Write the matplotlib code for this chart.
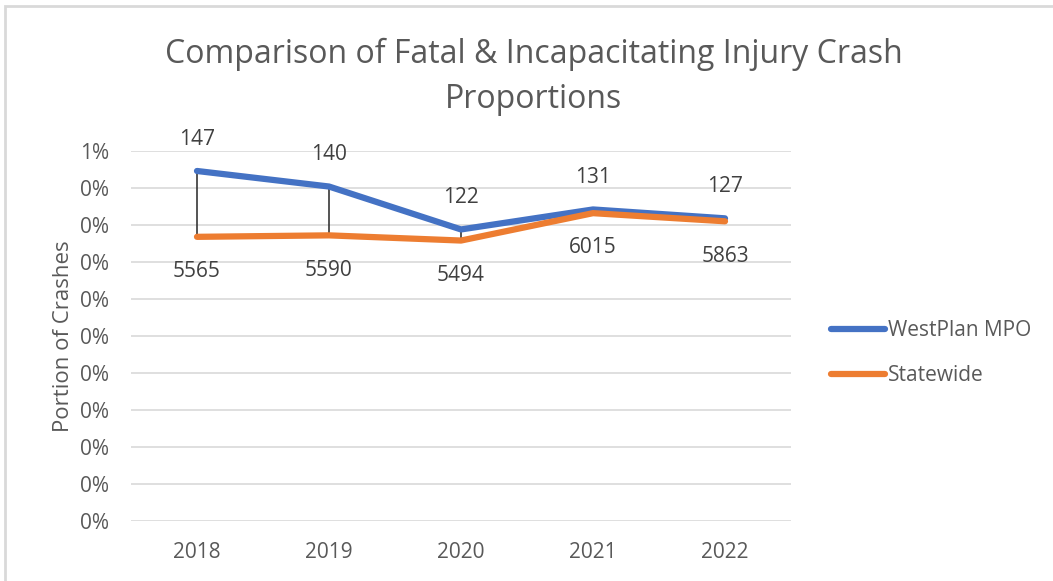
import numpy as np
import matplotlib
matplotlib.use("Agg")
import matplotlib.pyplot as plt
from matplotlib.ticker import FuncFormatter, MultipleLocator
from matplotlib.patches import Rectangle

plt.rcParams['font.family'] = ['Open Sans', 'DejaVu Sans']

years = ["2018", "2019", "2020", "2021", "2022"]
# share of crashes that were fatal / incapacitating
mpo_share = [0.00473, 0.00452, 0.00394, 0.00421, 0.00409]
state_share = [0.00384, 0.00386, 0.00379, 0.00416, 0.00405]
# counts shown as data labels
mpo_count = [147, 140, 122, 131, 127]
state_count = [5565, 5590, 5494, 6015, 5863]

blue = "#4472C4"
orange = "#ED7D31"
txt = "#595959"

fig = plt.figure(figsize=(10.53, 5.81), dpi=100)
ax = fig.add_axes([131/1053, 1-521/581, 660/1053, 370/581])

x = np.arange(len(years))

# high-low lines between the two series
for i in x:
    ax.plot([i, i], [state_share[i], mpo_share[i]], color="#262626", lw=1.1, zorder=2)

ax.plot(x, mpo_share, color=blue, lw=4.5, solid_capstyle="round",
        solid_joinstyle="round", label="WestPlan MPO", zorder=3)
ax.plot(x, state_share, color=orange, lw=4.5, solid_capstyle="round",
        solid_joinstyle="round", label="Statewide", zorder=3)

for i in x:
    ax.annotate(str(mpo_count[i]), (i, mpo_share[i]), xytext=(0, 23),
                textcoords="offset points", ha="center", va="center",
                fontsize=15, color="#404040")
    ax.annotate(str(state_count[i]), (i, state_share[i]), xytext=(0, -25),
                textcoords="offset points", ha="center", va="center",
                fontsize=15, color="#404040")

ax.set_xlim(-0.5, 4.5)
ax.set_ylim(0, 0.005)
ax.yaxis.set_major_locator(MultipleLocator(0.0005))
# excel style "0%" format (rounds half up)
ax.yaxis.set_major_formatter(FuncFormatter(lambda v, p: "%d%%" % int(np.floor(v*100 + 0.5 + 1e-9))))
ax.set_xticks(x)
ax.set_xticklabels(years)
ax.tick_params(length=0, labelsize=15, labelcolor=txt)
ax.tick_params(axis="y", pad=16)
ax.tick_params(axis="x", pad=15)
ax.grid(axis="y", color="#d9d9d9", lw=1.2)
ax.set_axisbelow(True)
for s in ax.spines.values():
    s.set_visible(False)

ax.set_ylabel("Portion of Crashes", fontsize=16, color=txt, labelpad=4)

fig.text(534/1053, 1-77/581, "Comparison of Fatal & Incapacitating Injury Crash\nProportions",
         ha="center", va="center", fontsize=23, color=txt, linespacing=1.5)

leg = fig.legend(loc="center left", bbox_to_anchor=(812/1053, 1-353/581), frameon=False,
                 fontsize=15, handlelength=2.6, handletextpad=0.15, labelspacing=1.15)
for t in leg.get_texts():
    t.set_color(txt)

# chart border
fig.patches.append(Rectangle((5/1053, -0.1), 1.2, 1-6/581 + 0.1, transform=fig.transFigure,
                             fill=False, edgecolor="#d9d9d9", lw=2))

fig.savefig("out.png", dpi=100)
